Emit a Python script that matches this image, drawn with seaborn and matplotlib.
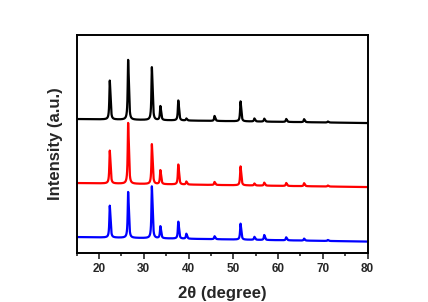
import numpy as np
import pandas as pd
import matplotlib
matplotlib.use("Agg")
import matplotlib.pyplot as plt
import seaborn as sns

# Peak positions (2theta, degree)
peak_pos = [22.4, 26.5, 31.8, 33.7, 37.7, 39.5, 45.8, 51.6, 54.7, 56.9, 61.8, 65.8, 71.1]
# Peak heights above local baseline (a.u.) for each sample
black_heights = [39, 60, 53, 14, 20, 2, 5, 20, 3, 3, 3, 3, 1]
red_heights = [33, 61, 40, 14, 20, 3, 3, 19, 2, 3, 3, 3, 1]
blue_heights = [32, 46, 52, 12, 17, 5, 3, 16, 3, 5, 3, 2, 1]
# Baseline levels (a.u.) at 2theta = 15 and 80
black_base = [134, 130]
red_base = [70, 66]
blue_base = [16, 11.5]
colors = ["black", "red", "blue"]

x_range = [15, 80]
x_ticks = [20, 30, 40, 50, 60, 70, 80]

W = 0.11
SH = 0.17
R = 0.45


def shape(d):
    return 1 / (1 + (d / W) ** 2) + R / (1 + ((d - SH) / W) ** 2)


_grid = np.linspace(-0.5, 0.5, 2001)
NORM = shape(_grid).max()


def pattern(tt, heights, base):
    y = np.interp(tt, x_range, base)
    for p, h in zip(peak_pos, heights):
        y = y + h * shape(tt - p) / NORM
    return y


tt = np.arange(15, 80.001, 0.02)
frames = []
for name, hts, base in [("black", black_heights, black_base),
                        ("red", red_heights, red_base),
                        ("blue", blue_heights, blue_base)]:
    frames.append(pd.DataFrame({"2theta": tt, "I": pattern(tt, hts, base), "sample": name}))
df = pd.concat(frames, ignore_index=True)

sns.set_style("ticks")
plt.rcParams["font.family"] = ["Liberation Sans", "DejaVu Sans"]

fig = plt.figure(figsize=(4.28, 3.02), dpi=100)
ax = fig.add_axes([0.179, 0.162, 0.680, 0.722])
sns.lineplot(data=df, x="2theta", y="I", hue="sample", palette=colors,
             hue_order=["black", "red", "blue"], linewidth=1.6, legend=False,
             estimator=None, sort=False, ax=ax)

ax.set_xlim(*x_range)
ax.set_ylim(0, 218)
ax.set_xticks(x_ticks)
ax.set_xticks(np.arange(15, 81, 5), minor=True)
ax.set_yticks([])
for s in ax.spines.values():
    s.set_visible(True)
    s.set_linewidth(1.4)
    s.set_color("black")
ax.tick_params(axis="x", which="major", direction="out", length=4, width=1.2,
               labelsize=8.5, pad=3)
ax.tick_params(axis="x", which="minor", direction="out", length=2.5, width=1.2)
for lab in ax.get_xticklabels():
    lab.set_fontweight("bold")
ax.set_xlabel("2θ (degree)", fontsize=12, fontweight="bold", labelpad=8)
ax.set_ylabel("Intensity (a.u.)", fontsize=12, fontweight="bold", labelpad=10)

fig.savefig("out.png", dpi=100)
